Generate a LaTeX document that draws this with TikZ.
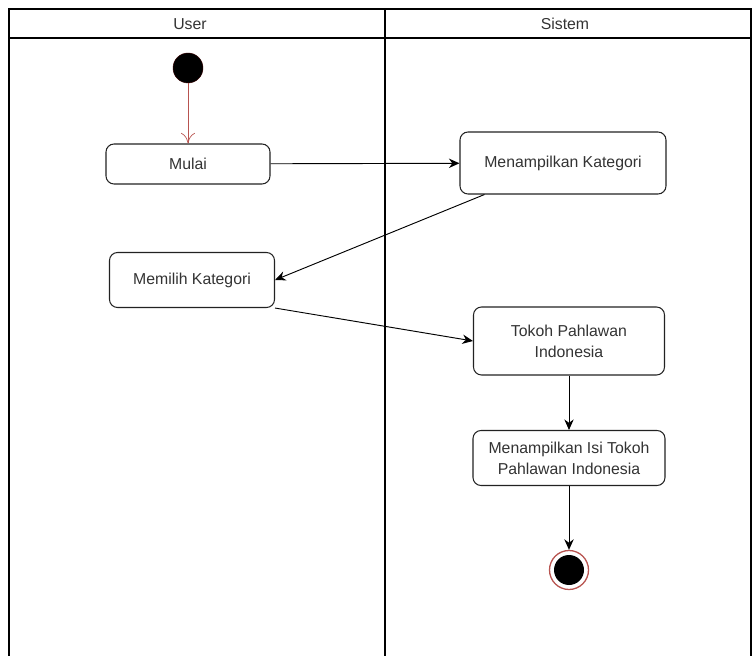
\documentclass[tikz,border=0pt]{standalone}
\usepackage{fontspec}
\setmainfont{Liberation Sans}
\usetikzlibrary{arrows.meta}

\definecolor{txtgray}{HTML}{333333}
\definecolor{linegray}{HTML}{222222}
\definecolor{startred}{HTML}{B85450}

\tikzset{
  activity/.style={draw=linegray,line width=0.9pt,rounded corners=0.24cm,fill=white,
    align=center,text=txtgray,font=\fontsize{13.5}{18}\selectfont,inner sep=2pt},
  flow/.style={-{Stealth[length=9pt,width=8pt]},line width=0.8pt,black},
  lane/.style={line width=0.9pt,black}
}

\begin{document}
\begin{tikzpicture}[x=0.03cm,y=-0.03cm]
\useasboundingbox (0,0) rectangle (752,656);

% swimlanes
\draw[lane] (9,660) -- (9,9) -- (751,9) -- (751,660);
\draw[lane] (9,38) -- (751,38);
\draw[lane] (385,9) -- (385,660);
\node[text=txtgray,font=\fontsize{13.5}{16}\selectfont] (user) at (190,24) {User};
\node[text=txtgray,font=\fontsize{13.5}{16}\selectfont] (sistem) at (565,24) {Sistem};

% start / end
\node[circle,fill=black,draw=black!80!red,minimum size=0.9cm,inner sep=0] (start) at (188,68) {};
\node[circle,draw=startred,line width=1.1pt,fill=white,minimum size=1.17cm,inner sep=0] (end) at (569,570) {};
\fill[black] (end.center) circle (0.45cm);

% activities
\node[activity,minimum width=4.92cm,minimum height=1.2cm] (mulai) at (188,164) {Mulai};
\node[activity,minimum width=6.18cm,minimum height=1.86cm] (tampilkat) at (563,163) {Menampilkan Kategori};
\node[activity,minimum width=4.95cm,minimum height=1.65cm] (pilihkat) at (192,280) {Memilih Kategori};
\node[activity,minimum width=5.73cm,minimum height=2.04cm] (tokoh) at (569,341) {Tokoh Pahlawan\\Indonesia};
\node[activity,minimum width=5.76cm,minimum height=1.65cm] (isitokoh) at (569,458) {Menampilkan Isi Tokoh\\Pahlawan Indonesia};

% flows
\draw[-{To[length=9pt,width=12pt]},line width=0.6pt,startred] (start) -- (mulai);
\draw[flow] (mulai) -- (tampilkat);
\draw[flow] ([xshift=0.75cm]tampilkat.south west) -- (pilihkat.east);
\draw[flow] (pilihkat.south east) -- (tokoh.west);
\draw[flow] (tokoh) -- (isitokoh);
\draw[flow] (isitokoh) -- (end);

\end{tikzpicture}
\end{document}
